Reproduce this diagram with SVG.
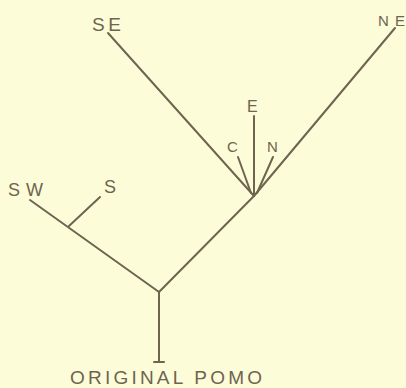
<svg xmlns="http://www.w3.org/2000/svg" width="406" height="388" viewBox="0 0 406 388">
<style>
.l{stroke:#6e6450;stroke-width:2;fill:none;stroke-linecap:round}
.t{font-family:"Liberation Sans",Arial,sans-serif;fill:#6e6450;font-weight:normal}
</style>
<rect width="406" height="388" fill="#fdfcd9"/>
<g id="connectors">
<line class="l" x1="108" y1="33" x2="254" y2="196"/>
<line class="l" x1="395" y1="28" x2="254" y2="196"/>
<line class="l" x1="254" y1="116" x2="254" y2="196"/>
<line class="l" x1="238" y1="157" x2="251" y2="193"/>
<line class="l" x1="273" y1="157" x2="257" y2="193"/>
<line class="l" x1="254" y1="196" x2="159" y2="292"/>
<line class="l" x1="30" y1="200" x2="159" y2="292"/>
<line class="l" x1="100" y1="197" x2="69" y2="226"/>
<line class="l" x1="159" y1="292" x2="159" y2="362"/>
<line class="l" x1="154" y1="362" x2="164" y2="362"/>
</g>
<g id="node-se"><text class="t" x="92" y="31" font-size="19" textLength="29" lengthAdjust="spacing">SE</text></g>
<g id="node-ne"><text class="t" x="378" y="26" font-size="15" textLength="27" lengthAdjust="spacing">NE</text></g>
<g id="node-e"><text class="t" x="247" y="112" font-size="16">E</text></g>
<g id="node-c"><text class="t" x="227" y="152" font-size="15">C</text></g>
<g id="node-n"><text class="t" x="267" y="152" font-size="15">N</text></g>
<g id="node-sw"><text class="t" x="8" y="196" font-size="18" textLength="35" lengthAdjust="spacing">SW</text></g>
<g id="node-s"><text class="t" x="104" y="193" font-size="18">S</text></g>
<g id="node-root"><text class="t" x="70" y="384" font-size="19" textLength="192" lengthAdjust="spacing">ORIGINAL POMO</text></g>
</svg>
